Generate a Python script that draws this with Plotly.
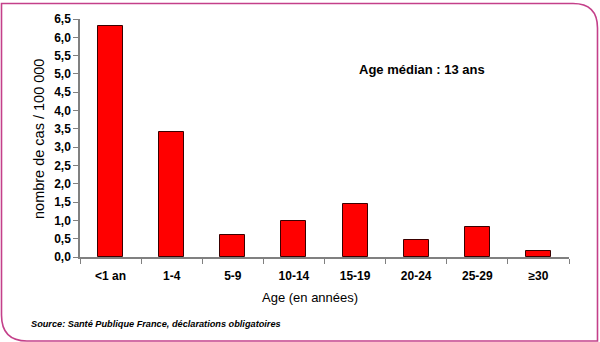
import plotly.graph_objects as go

# Incidence by age group (cases per 100 000)
age_groups = ["<1 an", "1-4", "5-9", "10-14", "15-19", "20-24", "25-29", "≥30"]
incidence = [6.31, 3.41, 0.61, 0.99, 1.46, 0.47, 0.83, 0.16]
y_ticks = [0, 0.5, 1, 1.5, 2, 2.5, 3, 3.5, 4, 4.5, 5, 5.5, 6, 6.5]
y_tick_labels = [f"{v:.1f}".replace(".", ",") for v in y_ticks]

FONT = "Liberation Sans, Arial, sans-serif"
FRAME = "#c4408a"

W, H = 600, 342
ML, MR, MT, MB = 80, 31, 17, 85
PW, PH = W - ML - MR, H - MT - MB

fig = go.Figure()
fig.add_trace(go.Bar(
    x=age_groups,
    y=incidence,
    width=0.41,
    marker=dict(color="#ff0000", line=dict(color="#3a0000", width=1)),
    hoverinfo="x+y",
))

fig.update_layout(
    width=W,
    height=H,
    margin=dict(l=ML, r=MR, t=MT, b=MB),
    paper_bgcolor="white",
    plot_bgcolor="white",
    showlegend=False,
    font=dict(family=FONT, size=12, color="black"),
    bargap=0,
)

fig.update_xaxes(
    type="category",
    range=[-0.5, len(age_groups) - 0.5],
    showline=True,
    linecolor="#808080",
    linewidth=1.5,
    ticks="outside",
    tickson="boundaries",
    ticklen=5,
    tickcolor="#808080",
    tickwidth=1.2,
    showgrid=False,
    tickfont=dict(family=FONT, size=12, color="black", weight="bold"),
    ticklabelstandoff=7,
)

fig.update_yaxes(
    range=[0, 6.5],
    tickvals=y_ticks,
    ticktext=y_tick_labels,
    showline=True,
    linecolor="#808080",
    linewidth=1.5,
    ticks="outside",
    ticklen=5,
    tickcolor="#808080",
    tickwidth=1.2,
    showgrid=False,
    zeroline=False,
    tickfont=dict(family=FONT, size=12, color="black", weight="bold"),
)


def px_x(x):
    return (x - ML) / PW


def px_y(y):
    return (H - MB - y) / PH


# Axis titles and annotations
fig.add_annotation(
    text="Age (en années)", xref="paper", yref="paper",
    x=px_x(310), y=px_y(298), showarrow=False,
    font=dict(family=FONT, size=13, color="black"),
    xanchor="center", yanchor="middle",
)
fig.add_annotation(
    text="nombre de cas / 100 000", xref="paper", yref="paper",
    x=px_x(39), y=px_y(138), showarrow=False, textangle=-90,
    font=dict(family=FONT, size=14.5, color="black"),
    xanchor="center", yanchor="middle",
)
fig.add_annotation(
    text="<b>Age médian : 13 ans</b>", xref="paper", yref="paper",
    x=px_x(422), y=px_y(68), showarrow=False,
    font=dict(family=FONT, size=13, color="black"),
    xanchor="center", yanchor="middle",
)
fig.add_annotation(
    text="<b><i>Source: Santé Publique France, déclarations obligatoires</i></b>",
    xref="paper", yref="paper",
    x=px_x(29), y=px_y(325), showarrow=False,
    font=dict(family=FONT, size=9.2, color="black"),
    xanchor="left", yanchor="middle",
)


# Frame around the figure (pixel path anchored at the plot's top-left corner,
# y pointing upward); rounded top-right and bottom-left corners.
def pt(x, y):
    return f"{x - ML},{MT - y}"


frame_path = (
    f"M {pt(1.5, 1.5)} L {pt(573, 1.5)} Q {pt(597.5, 1.5)} {pt(597.5, 26)} "
    f"L {pt(597.5, 339)} L {pt(27, 339)} Q {pt(1.5, 339)} {pt(1.5, 313)} Z"
)
fig.add_shape(
    type="path", path=frame_path,
    xref="paper", yref="paper", xsizemode="pixel", ysizemode="pixel",
    xanchor=0, yanchor=1,
    line=dict(color=FRAME, width=1.6), layer="above",
)

fig.write_html("out.html")
